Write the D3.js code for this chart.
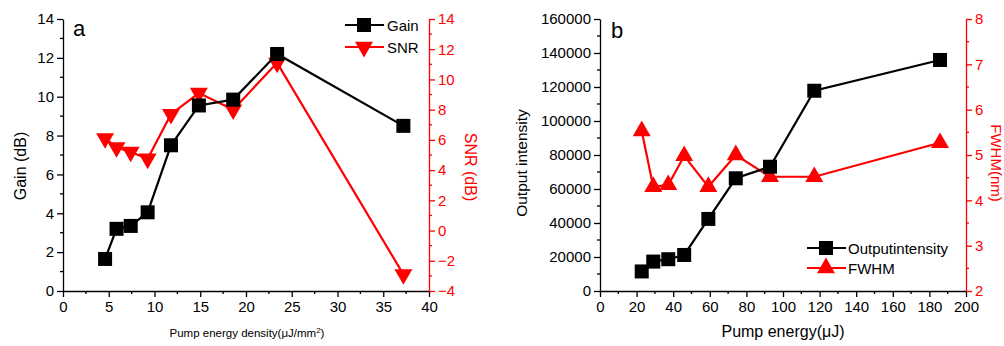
<!DOCTYPE html>
<html><head><meta charset="utf-8">
<script src="https://cdn.jsdelivr.net/npm/d3@7"></script>
<style>
body{margin:0;background:#fff;}
svg{display:block;font-family:"Liberation Sans",Arial,sans-serif;}
</style></head>
<body>
<svg id="c" width="1004" height="346"></svg>
<script>
// Panel a
const densityX = [4.6, 5.85, 7.4, 9.25, 11.8, 14.85, 18.6, 23.4, 37.2];
const gainDB   = [1.65, 3.2, 3.35, 4.05, 7.5, 9.55, 9.85, 12.2, 8.5];
const snrDB    = [6.1, 5.5, 5.2, 4.75, 7.7, 9.1, 8.0, 11.1, -2.9];
const aXTicks = [0,5,10,15,20,25,30,35,40];
const aGainTicks = [0,2,4,6,8,10,12,14];
const aSnrTicks = [-4,-2,0,2,4,6,8,10,12,14];
// Panel b
const pumpX     = [22.8, 29.1, 37.3, 46, 59.2, 74.2, 92.9, 117.1, 185.8];
const outInt    = [11500, 17300, 18700, 21200, 42400, 66300, 73100, 117800, 135900];
const fwhm      = [5.53, 4.3, 4.34, 4.98, 4.3, 5.0, 4.52, 4.52, 5.27];
const bXTicks = [0,20,40,60,80,100,120,140,160,180,200];
const bIntTicks = [0,20000,40000,60000,80000,100000,120000,140000,160000];
const bFwhmTicks = [2,3,4,5,6,7,8];

const svg = d3.select("#c");
const RED = "#ff0000";
const plotTop = 19, plotBottom = 291;

function drawAxis(g, axis, color){
  g.call(axis);
  g.selectAll("path,line").attr("stroke", color).attr("stroke-width",1.3);
  g.selectAll("text").attr("fill", color).style("font-size","15px").style("font-family","Liberation Sans, Arial, sans-serif");
}
function minor(g, scale, vals, orient, color, len){
  vals.forEach(v=>{
    const p = scale(v);
    if(orient==="bottom") g.append("line").attr("x1",p).attr("x2",p).attr("y1",0).attr("y2",len);
    else if(orient==="left") g.append("line").attr("y1",p).attr("y2",p).attr("x1",0).attr("x2",-len);
    else g.append("line").attr("y1",p).attr("y2",p).attr("x1",0).attr("x2",len);
  });
  g.selectAll("line").attr("stroke",color).attr("stroke-width",1.3);
}
function squares(g, pts, color){
  g.selectAll(null).data(pts).enter().append("rect")
   .attr("x",d=>d[0]-7).attr("y",d=>d[1]-7).attr("width",14).attr("height",14).attr("fill",color);
}
function tris(g, pts, color, down){
  const s = d3.symbol().type(d3.symbolTriangle).size(140);
  g.selectAll(null).data(pts).enter().append("path")
   .attr("d", s).attr("transform",d=>`translate(${d[0]},${d[1]})${down?" rotate(180)":""}`).attr("fill",color);
}

// ---------- Panel a ----------
{
  const x = d3.scaleLinear().domain([0,40]).range([63,429]);
  const yG = d3.scaleLinear().domain([0,14]).range([plotBottom, plotTop]);
  const yS = d3.scaleLinear().domain([-4,14]).range([plotBottom, plotTop]);
  const gx = svg.append("g").attr("transform",`translate(0,${plotBottom})`);
  drawAxis(gx, d3.axisBottom(x).tickValues(aXTicks).tickSize(6).tickPadding(4).tickSizeOuter(0), "#000");
  minor(gx.append("g"), x, d3.range(2.5,40,5), "bottom", "#000", 3);
  const gy = svg.append("g").attr("transform",`translate(63,0)`);
  drawAxis(gy, d3.axisLeft(yG).tickValues(aGainTicks).tickSize(6).tickPadding(3).tickSizeOuter(0), "#000");
  minor(gy.append("g"), yG, d3.range(1,14,2), "left", "#000", 3);
  const gs = svg.append("g").attr("transform",`translate(429,0)`);
  drawAxis(gs, d3.axisRight(yS).tickValues(aSnrTicks).tickSize(6).tickPadding(3).tickSizeOuter(0), RED);
  minor(gs.append("g"), yS, d3.range(-3,14,2), "right", RED, 3);

  const line = d3.line();
  const gp = densityX.map((v,i)=>[x(v), yG(gainDB[i])]);
  const sp = densityX.map((v,i)=>[x(v), yS(snrDB[i])]);
  svg.append("path").attr("d",line(sp)).attr("fill","none").attr("stroke",RED).attr("stroke-width",2.2);
  tris(svg.append("g"), sp, RED, true);
  svg.append("path").attr("d",line(gp)).attr("fill","none").attr("stroke","#000").attr("stroke-width",2.2);
  squares(svg.append("g"), gp, "#000");

  svg.append("text").attr("x",73).attr("y",36).text("a").style("font-size","22px");
  svg.append("text").attr("transform","translate(26,166) rotate(-90)").attr("text-anchor","middle").style("font-size","16px").text("Gain (dB)");
  svg.append("text").attr("transform","translate(465,167) rotate(90)").attr("text-anchor","middle").style("font-size","16px").attr("fill",RED).text("SNR (dB)");
  const t = svg.append("text").attr("x",247).attr("y",337).attr("text-anchor","middle").style("font-size","11.5px");
  t.append("tspan").text("Pump energy density(μJ/mm");
  t.append("tspan").attr("dy",-4).style("font-size","8px").text("2");
  t.append("tspan").attr("dy",4).text(")");

  const lg = svg.append("g");
  [[25,"#000","Gain",0],[47,RED,"SNR",1]].forEach(([yy,c,lab,k])=>{
    lg.append("line").attr("x1",345).attr("x2",384).attr("y1",yy).attr("y2",yy).attr("stroke",c).attr("stroke-width",2.2);
    if(k===0) squares(lg, [[364,yy]], c); else tris(lg, [[364,yy]], c, true);
    lg.append("text").attr("x",387).attr("y",yy+5.5).style("font-size","15px").text(lab);
  });
}

// ---------- Panel b ----------
{
  const x = d3.scaleLinear().domain([0,200]).range([600,966]);
  const yI = d3.scaleLinear().domain([0,160000]).range([plotBottom, plotTop]);
  const yF = d3.scaleLinear().domain([2,8]).range([plotBottom, plotTop]);
  const gx = svg.append("g").attr("transform",`translate(0,${plotBottom})`);
  drawAxis(gx, d3.axisBottom(x).tickValues(bXTicks).tickSize(6).tickPadding(4).tickSizeOuter(0), "#000");
  minor(gx.append("g"), x, d3.range(10,200,20), "bottom", "#000", 3);
  const gy = svg.append("g").attr("transform",`translate(600,0)`);
  drawAxis(gy, d3.axisLeft(yI).tickValues(bIntTicks).tickFormat(d3.format("d")).tickSize(6).tickPadding(3).tickSizeOuter(0), "#000");
  minor(gy.append("g"), yI, d3.range(10000,160000,20000), "left", "#000", 3);
  const gf = svg.append("g").attr("transform",`translate(966,0)`);
  drawAxis(gf, d3.axisRight(yF).tickValues(bFwhmTicks).tickFormat(d3.format("d")).tickSize(6).tickPadding(3).tickSizeOuter(0), RED);
  minor(gf.append("g"), yF, d3.range(2.5,8,1), "right", RED, 3);

  const line = d3.line();
  const ip = pumpX.map((v,i)=>[x(v), yI(outInt[i])]);
  const fp = pumpX.map((v,i)=>[x(v), yF(fwhm[i])]);
  svg.append("path").attr("d",line(fp)).attr("fill","none").attr("stroke",RED).attr("stroke-width",2.2);
  tris(svg.append("g"), fp, RED, false);
  svg.append("path").attr("d",line(ip)).attr("fill","none").attr("stroke","#000").attr("stroke-width",2.2);
  squares(svg.append("g"), ip, "#000");

  svg.append("text").attr("x",611).attr("y",38).text("b").style("font-size","22px");
  svg.append("text").attr("transform","translate(527,163) rotate(-90)").attr("text-anchor","middle").style("font-size","15.5px").text("Output intensity");
  svg.append("text").attr("transform","translate(991,163) rotate(90)").attr("text-anchor","middle").style("font-size","15px").attr("fill",RED).text("FWHM(nm)");
  svg.append("text").attr("x",783).attr("y",337).attr("text-anchor","middle").style("font-size","16px").text("Pump energy(μJ)");

  const lg = svg.append("g");
  [[248,"#000","Outputintensity",0],[268,RED,"FWHM",1]].forEach(([yy,c,lab,k])=>{
    lg.append("line").attr("x1",807).attr("x2",846).attr("y1",yy).attr("y2",yy).attr("stroke",c).attr("stroke-width",2.2);
    if(k===0) squares(lg, [[826,yy]], c); else tris(lg, [[826,yy]], c, false);
    lg.append("text").attr("x",848).attr("y",yy+5.5).style("font-size","15px").text(lab);
  });
}
</script>
</body></html>
